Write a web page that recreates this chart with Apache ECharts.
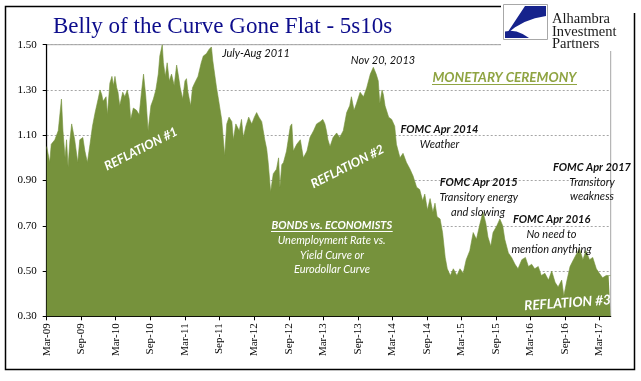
<!DOCTYPE html>
<html><head><meta charset="utf-8">
<script src="https://cdn.jsdelivr.net/npm/echarts@6/dist/echarts.min.js"></script>
<style>html,body{margin:0;padding:0;background:#fff}#c{width:641px;height:381px}</style>
</head><body><div id="c"></div>
<script>
// ---- data (5s10s spread, %) ----
const dates = ['2009-03-01','2009-03-17','2009-03-25','2009-04-13','2009-05-01','2009-05-18','2009-05-26','2009-06-06','2009-06-14','2009-06-22',
'2009-07-02','2009-07-11','2009-07-18','2009-07-27','2009-08-12','2009-08-23','2009-09-08','2009-09-19','2009-10-02','2009-10-16',
'2009-10-29','2009-11-12','2009-11-28','2009-12-08','2009-12-17','2009-12-24','2010-01-09','2010-01-16','2010-01-29','2010-02-09',
'2010-02-17','2010-02-25','2010-03-06','2010-03-13','2010-03-22','2010-04-07','2010-04-18','2010-05-01','2010-05-11','2010-05-19',
'2010-06-02','2010-06-19','2010-07-03','2010-07-15','2010-07-26','2010-08-07','2010-08-19','2010-09-03','2010-09-16','2010-09-29',
'2010-10-12','2010-10-20','2010-11-02','2010-11-08','2010-11-18','2010-11-28','2010-12-09','2010-12-21','2011-01-04','2011-01-17',
'2011-01-25','2011-02-05','2011-02-18','2011-03-02','2011-03-10','2011-03-18','2011-04-01','2011-04-11','2011-04-22','2011-05-10',
'2011-05-27','2011-06-07','2011-06-23','2011-07-08','2011-07-20','2011-07-27','2011-08-16','2011-08-24','2011-09-12','2011-09-28',
'2011-10-09','2011-10-21','2011-11-05','2011-11-13','2011-11-26','2011-12-14','2011-12-26','2012-01-05','2012-01-18','2012-02-02',
'2012-02-18','2012-03-03','2012-03-15','2012-03-27','2012-04-11','2012-04-19','2012-04-27','2012-05-07','2012-05-15','2012-05-28',
'2012-06-11','2012-06-28','2012-07-09','2012-07-16','2012-07-26','2012-08-04','2012-08-20','2012-09-09','2012-09-17','2012-09-25',
'2012-10-13','2012-11-01','2012-11-17','2012-12-06','2012-12-22','2013-01-10','2013-01-26','2013-02-14','2013-02-28','2013-03-11',
'2013-03-19','2013-03-27','2013-04-07','2013-04-23','2013-05-12','2013-05-28','2013-06-16','2013-07-04','2013-07-20','2013-07-29',
'2013-08-12','2013-08-25','2013-09-13','2013-10-01','2013-10-18','2013-11-06','2013-11-22','2013-12-07','2013-12-18','2013-12-26',
'2014-01-07','2014-01-14','2014-01-23','2014-02-11','2014-02-27','2014-03-15','2014-03-24','2014-04-12','2014-04-28','2014-05-16',
'2014-06-04','2014-06-20','2014-07-09','2014-07-25','2014-08-10','2014-08-21','2014-09-04','2014-09-18','2014-10-03','2014-10-14',
'2014-10-25','2014-11-10','2014-11-23','2014-12-07','2014-12-18','2015-01-03','2015-01-19','2015-02-07','2015-02-23','2015-03-12',
'2015-03-28','2015-04-16','2015-05-04','2015-05-21','2015-06-09','2015-06-25','2015-07-10','2015-07-21','2015-08-05','2015-08-17',
'2015-09-06','2015-09-22','2015-10-07','2015-10-18','2015-11-06','2015-11-23','2015-12-11','2015-12-27','2016-01-16','2016-02-04',
'2016-02-20','2016-03-08','2016-03-24','2016-04-12','2016-04-28','2016-05-17','2016-06-05','2016-06-22','2016-07-10','2016-07-26',
'2016-08-14','2016-08-25','2016-09-11','2016-09-27','2016-10-15','2016-11-03','2016-11-16','2016-12-04','2016-12-20','2017-01-08',
'2017-01-25','2017-02-13','2017-03-01','2017-03-18','2017-04-06','2017-04-19','2017-04-29'];
const spread = [1.05,0.98,1.06,1.08,1.12,1.26,1.12,1.00,1.08,0.96,
1.08,1.15,1.15,1.08,0.98,1.08,1.09,1.03,0.98,1.06,
1.14,1.20,1.26,1.30,1.28,1.25,1.27,1.19,1.33,1.36,
1.32,1.36,1.31,1.29,1.23,1.29,1.27,1.30,1.26,1.17,
1.22,1.21,1.19,1.29,1.37,1.27,1.12,1.23,1.26,1.30,
1.37,1.45,1.50,1.42,1.36,1.42,1.34,1.37,1.32,1.41,
1.37,1.31,1.26,1.34,1.35,1.29,1.23,1.31,1.33,1.36,
1.42,1.45,1.46,1.48,1.49,1.43,1.31,1.27,1.17,1.01,
1.15,1.18,1.16,1.08,1.15,1.12,1.17,1.09,1.14,1.18,
1.15,1.18,1.20,1.18,1.16,1.12,1.08,1.04,0.98,0.85,
0.93,0.95,1.00,0.87,0.97,0.98,1.03,1.14,1.15,1.03,
1.06,1.08,1.00,1.03,1.09,1.12,1.15,1.16,1.17,1.15,
1.12,1.08,1.05,1.09,1.11,1.09,1.12,1.20,1.23,1.27,
1.21,1.24,1.29,1.27,1.31,1.37,1.40,1.37,1.34,1.24,
1.30,1.28,1.23,1.18,1.17,1.14,1.06,1.00,1.02,0.98,
0.95,0.92,0.87,0.86,0.81,0.84,0.77,0.82,0.76,0.80,
0.74,0.73,0.67,0.56,0.51,0.48,0.51,0.48,0.51,0.49,
0.55,0.59,0.67,0.64,0.71,0.76,0.71,0.65,0.61,0.67,
0.70,0.73,0.70,0.64,0.58,0.56,0.53,0.51,0.55,0.56,
0.52,0.53,0.51,0.52,0.48,0.49,0.46,0.50,0.45,0.43,
0.46,0.39,0.46,0.52,0.55,0.58,0.60,0.55,0.59,0.55,
0.56,0.51,0.49,0.47,0.48,0.48,0.48];
const tickDates = ['2009-03-01','2009-09-01','2010-03-01','2010-09-01','2011-03-01','2011-09-01','2012-03-01','2012-09-01',
'2013-03-01','2013-09-01','2014-03-01','2014-09-01','2015-03-01','2015-09-01','2016-03-01','2016-09-01','2017-03-01'];
const tickLabels = ['Mar-09','Sep-09','Mar-10','Sep-10','Mar-11','Sep-11','Mar-12','Sep-12',
'Mar-13','Sep-13','Mar-14','Sep-14','Mar-15','Sep-15','Mar-16','Sep-16','Mar-17'];
const yMin = 0.30, yMax = 1.50, yStep = 0.20;
const xStart = '2009-03-01', xEnd = '2017-04-30';

function toTs(s){ const p = s.split('-').map(Number); return Date.UTC(p[0], p[1]-1, p[2]); }
const tickTs = tickDates.map(toTs);
const seriesData = dates.map((d,i)=>[toTs(d), spread[i]]);

const SANS = 'Lato, "Open Sans", sans-serif';
const SERIF = '"Liberation Serif", "DejaVu Serif", serif';
const BLACK = '#111';

function txt(text, x, y, opt){
  opt = opt || {};
  return { type:'text', x:x, y:y, rotation: opt.rot || 0, z:100,
    style:{ text:text, x:0, y:0, fill: opt.fill || BLACK,
      font: (opt.italic===false?'':'italic ') + (opt.bold?'bold ':'') + (opt.size||11) + 'px ' + (opt.family||SANS),
      textAlign: opt.align || 'center', align: opt.align || 'center',
      textVerticalAlign:'middle', verticalAlign:'middle' } };
}
function line(x1,y1,x2,y2,color,w){
  return { type:'line', z:100, shape:{x1:x1,y1:y1,x2:x2,y2:y2}, style:{stroke:color, lineWidth:w||1} };
}
function tickLabel(v){ let best=0, bd=Infinity; tickTs.forEach((t,i)=>{ const d=Math.abs(t-v); if(d<bd){bd=d;best=i;} }); return tickLabels[best]; }
const deg = Math.PI/180;

const chart = echarts.init(document.getElementById('c'), null, {renderer:'canvas'});
chart.setOption({
  animation:false,
  backgroundColor:'#fff',
  grid:{ left:46.7, right:30.3, top:44.7, bottom:64.7, show:true, borderColor:'#A6A6A6', borderWidth:1, backgroundColor:'transparent' },
  xAxis:{ type:'value', min: toTs(xStart), max: toTs(xEnd), scale:true,
    axisLine:{ show:true, onZero:false, lineStyle:{ color:'#000', width:1.2 } },
    axisTick:{ show:true, length:4, customValues: tickTs, lineStyle:{ color:'#000' } },
    axisLabel:{ customValues: tickTs, rotate:90, margin:7, color:'#000', fontFamily:SERIF, fontSize:11, formatter: tickLabel },
    splitLine:{ show:false } },
  yAxis:{ type:'value', min:yMin, max:yMax, interval:yStep,
    axisLine:{ show:true, lineStyle:{ color:'#000', width:1.2 } },
    axisTick:{ show:true, length:4, lineStyle:{ color:'#000' } },
    axisLabel:{ margin:10, color:'#000', fontFamily:SERIF, fontSize:11, formatter: v => v.toFixed(2) },
    splitLine:{ show:true, lineStyle:{ color:'#A6A6A6', type:[2,2], width:1 } } },
  series:[{ type:'line', data: seriesData, showSymbol:false, symbol:'none', z:3,
    lineStyle:{ width:0.6, color:'#76923C' },
    areaStyle:{ color:'#76923C', opacity:1, origin:'start' } }],
  graphic:{ elements:[
    { type:'rect', z:90, shape:{x:501, y:0, width:131, height:51}, style:{ fill:'#fff' } },
    { type:'polyline', z:100, shape:{ points:[[501,6.5],[5.5,6.5],[5.5,369.5],[634.5,369.5],[634.5,13]] }, style:{ stroke:'#000', lineWidth:1.5, fill:null } },
    { type:'rect', z:100, shape:{x:503.5, y:4.5, width:44, height:35}, style:{ fill:'#fff', stroke:'#A8A8A8', lineWidth:1 } },
    { type:'polygon', z:101, shape:{ points:[[525,6],[546,6],[546,16],[534.9,18.3],[524.6,22],[515.1,27.3],[506.5,34]] }, style:{ fill:'#16238C' } },
    { type:'polygon', z:101, shape:{ points:[[505,38],[529,38],[522.7,34],[516.5,31.6],[510.6,30.8],[505,31.5]] }, style:{ fill:'#16238C' } },
    { type:'text', z:101, x:552, y:13, style:{ text:'Alhambra\nInvestment\nPartners', x:0, y:0, fill:'#1a1a1a',
        font:'14.5px ' + SERIF, lineHeight:12.5, textAlign:'left', align:'left', textVerticalAlign:'top', verticalAlign:'top' } },
    txt('Belly of the Curve Gone Flat - 5s10s', 53, 27, { italic:false, size:23, family:SERIF, fill:'#0D0D8C', align:'left' }),
    txt('July-Aug 2011', 256, 53.5),
    txt('Nov 20, 2013', 383, 60.5),
    txt('MONETARY CEREMONY', 504.5, 78, { bold:true, size:13.5, fill:'#8FA442' }),
    line(432, 84.5, 577, 84.5, '#8FA442', 1),
    txt('FOMC Apr 2014', 439.5, 129, { bold:true }),
    txt('Weather', 439.5, 144),
    txt('FOMC Apr 2015', 478.7, 182, { bold:true }),
    txt('Transitory energy', 478.7, 197.3),
    txt('and slowing', 478, 212.3),
    txt('FOMC Apr 2017', 592, 167, { bold:true }),
    txt('Transitory', 592, 182),
    txt('weakness', 592, 196.7),
    txt('FOMC Apr 2016', 551.7, 219.3, { bold:true }),
    txt('No need to', 551.5, 234),
    txt('mention anything', 551.5, 249.3),
    txt('BONDS vs. ECONOMISTS', 331.8, 225, { bold:true, fill:'#fff' }),
    line(271, 231.5, 392.7, 231.5, '#fff', 1),
    txt('Unemployment Rate vs.', 331.7, 240.7, { fill:'#fff' }),
    txt('Yield Curve or', 332, 255, { fill:'#fff' }),
    txt('Eurodollar Curve', 332, 269.3, { fill:'#fff' }),
    txt('REFLATION #1', 141, 149, { bold:true, size:12.5, fill:'#fff', rot:27*deg }),
    txt('REFLATION #2', 347.5, 166.7, { bold:true, size:12.5, fill:'#fff', rot:27*deg }),
    txt('REFLATION #3', 567.5, 303, { bold:true, size:13.5, fill:'#fff', rot:4*deg })
  ]}
});
</script>
</body></html>
